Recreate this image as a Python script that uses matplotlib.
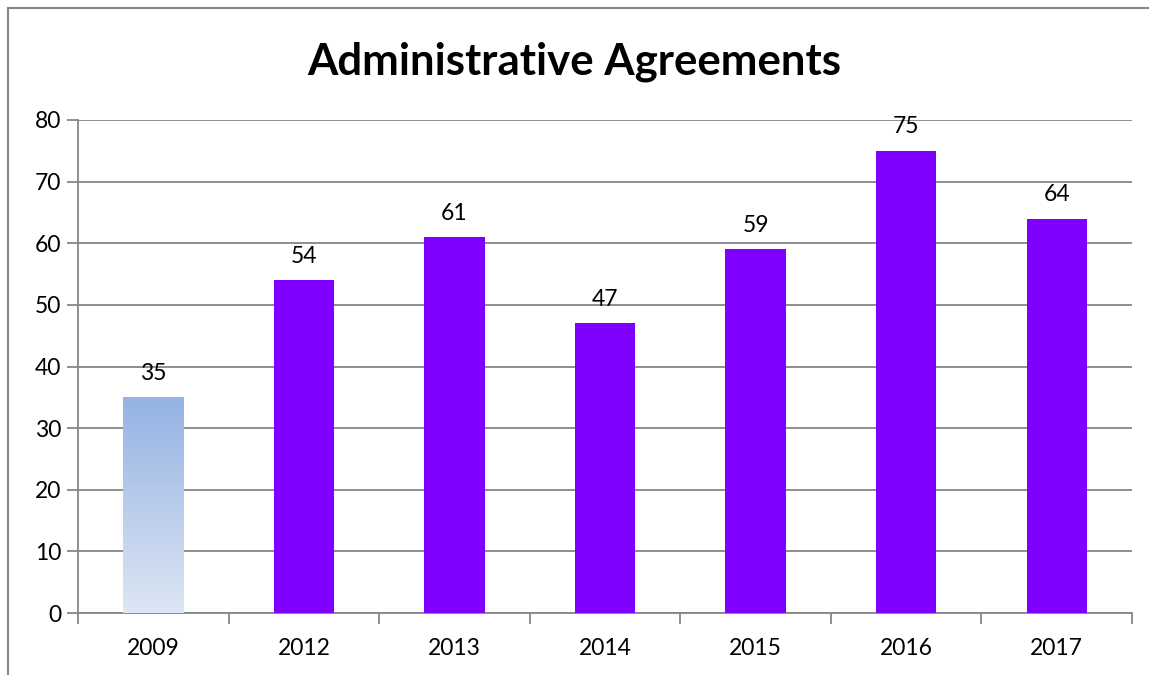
import matplotlib.pyplot as plt
import numpy as np
from matplotlib.patches import Rectangle
from matplotlib.colors import LinearSegmentedColormap

years = ["2009", "2012", "2013", "2014", "2015", "2016", "2017"]
counts = [35, 54, 61, 47, 59, 75, 64]

plt.rcParams['font.family'] = ['Lato', 'DejaVu Sans']

fig = plt.figure(figsize=(11.49, 6.75), dpi=100)
W, H = 1149, 675
ax = fig.add_axes([78 / W, 1 - 613 / H, (1132 - 78) / W, (613 - 120) / H])

x = np.arange(len(years))
bars = ax.bar(x, counts, width=0.4, color="#8000FF", zorder=3)

# gradient fill for the first bar
b0 = bars[0]
b0.set_facecolor("none")
grad = np.linspace(0, 1, 256).reshape(-1, 1)
cmap = LinearSegmentedColormap.from_list("g", ["#DDE6F4", "#95B3E3"])
bx, bw, bh = b0.get_x(), b0.get_width(), b0.get_height()
ax.imshow(grad, cmap=cmap, origin="lower", aspect="auto",
          extent=[bx, bx + bw, 0, bh], zorder=3)

for xi, v in zip(x, counts):
    ax.text(xi, v + 2.2, str(v), ha="center", va="bottom", fontsize=16.5)

ax.set_xlim(-0.5, len(years) - 0.5)
ax.set_ylim(0, 80)
ax.set_yticks(range(0, 81, 10))
ax.set_xticks(x)
ax.set_xticklabels(years)
ax.set_xticks(np.arange(-0.5, len(years), 1), minor=True)
ax.tick_params(axis="x", which="major", length=0, pad=18, labelsize=16.5)
ax.tick_params(axis="x", which="minor", length=8, color="#868686", width=1.3)
ax.tick_params(axis="y", length=8, color="#868686", width=1.3, labelsize=16.5, pad=4)
ax.yaxis.grid(True, color="#868686", linewidth=1.3, zorder=0)
for s in ["top", "right"]:
    ax.spines[s].set_visible(False)
ax.spines["left"].set_color("#868686")
ax.spines["bottom"].set_color("#868686")
ax.spines["left"].set_linewidth(1.3)
ax.spines["bottom"].set_linewidth(1.3)

fig.text(574 / W, 1 - 62 / H, "Administrative Agreements", ha="center",
         va="center", fontsize=31.5, fontweight="bold")

fig.patches.append(Rectangle((8 / W, -0.1), 1.2, 1 - 8 / H + 0.1,
                             transform=fig.transFigure, fill=False,
                             edgecolor="#868686", linewidth=1.5))

fig.savefig("out.png", dpi=100)
